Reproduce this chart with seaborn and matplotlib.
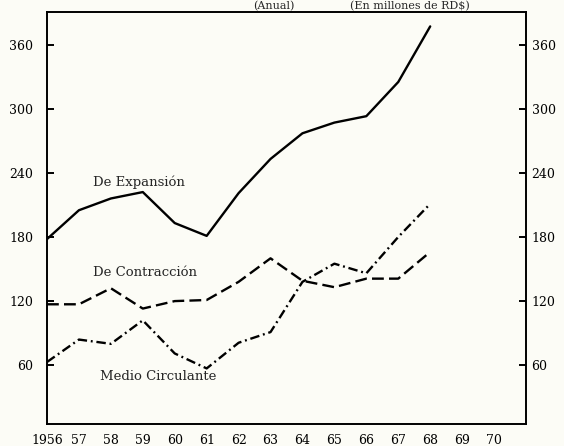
import numpy as np
import pandas as pd
import matplotlib
matplotlib.use("Agg")
import matplotlib.pyplot as plt
import seaborn as sns

# datos (millones de RD$)
years = [1956, 1957, 1958, 1959, 1960, 1961, 1962, 1963, 1964, 1965, 1966, 1967, 1968]
expansion = [178, 205, 216, 222, 193, 181, 221, 253, 277, 287, 293, 325, 377]
contraccion = [117, 117, 132, 113, 120, 121, 138, 160, 139, 133, 141, 141, 166]
medio = [63, 84, 80, 102, 71, 57, 81, 91, 138, 155, 146, 180, 211]

xticks = list(range(1956, 1971))
xlabels = ["1956"] + [str(y)[2:] for y in xticks[1:]]
yticks = [60, 120, 180, 240, 300, 360]

sns.set_style("white")
plt.rcParams["font.family"] = ["DejaVu Serif"]
bg = "#fcfcf6"

fig = plt.figure(figsize=(5.64, 4.46), dpi=100, facecolor=bg)
ax = fig.add_axes([47 / 564, 1 - 424 / 446, 479 / 564, 411.5 / 446])
ax.set_facecolor(bg)

df = pd.DataFrame({"anio": years, "exp": expansion, "con": contraccion, "med": medio})
sns.lineplot(data=df, x="anio", y="exp", ax=ax, color="black", lw=1.7)
sns.lineplot(data=df, x="anio", y="con", ax=ax, color="black", lw=1.7,
             linestyle=(0, (5, 2.2)))
sns.lineplot(data=df, x="anio", y="med", ax=ax, color="black", lw=1.7,
             linestyle=(0, (4, 1.6, 0.8, 1.6)))

ax.set_xlim(1956, 1971)
ax.set_ylim(5, 390)
ax.set_xlabel("")
ax.set_ylabel("")
ax.set_xticks(xticks)
ax.set_xticklabels(xlabels)
ax.set_yticks(yticks)
ax.tick_params(axis="both", direction="in", length=5, width=1.4, colors="black", labelsize=9)
ax.tick_params(axis="y", pad=10)
ax.tick_params(axis="x", pad=7)
for s in ax.spines.values():
    s.set_color("black")
    s.set_linewidth(1.4)

ax2 = ax.twinx()
ax2.set_ylim(ax.get_ylim())
ax2.set_yticks(yticks)
ax2.tick_params(axis="y", direction="in", length=5, width=1.4, colors="black", labelsize=9, pad=4)
for s in ax2.spines.values():
    s.set_visible(False)

ax.text(1957.44, 231, "De Expansión", fontsize=9.5, va="center", ha="left")
ax.text(1957.44, 147, "De Contracción", fontsize=9.5, va="center", ha="left")
ax.text(1957.66, 49, "Medio Circulante", fontsize=9.5, va="center", ha="left")

# titulo de la parte superior (cortado en el original)
fig.text(274 / 564, 1 - 1 / 446, "(Anual)", fontsize=8, ha="center", va="top")
fig.text(410 / 564, 1 - 1 / 446, "(En millones de RD$)", fontsize=8, ha="center", va="top")

fig.savefig("out.png", dpi=100, facecolor=bg)
